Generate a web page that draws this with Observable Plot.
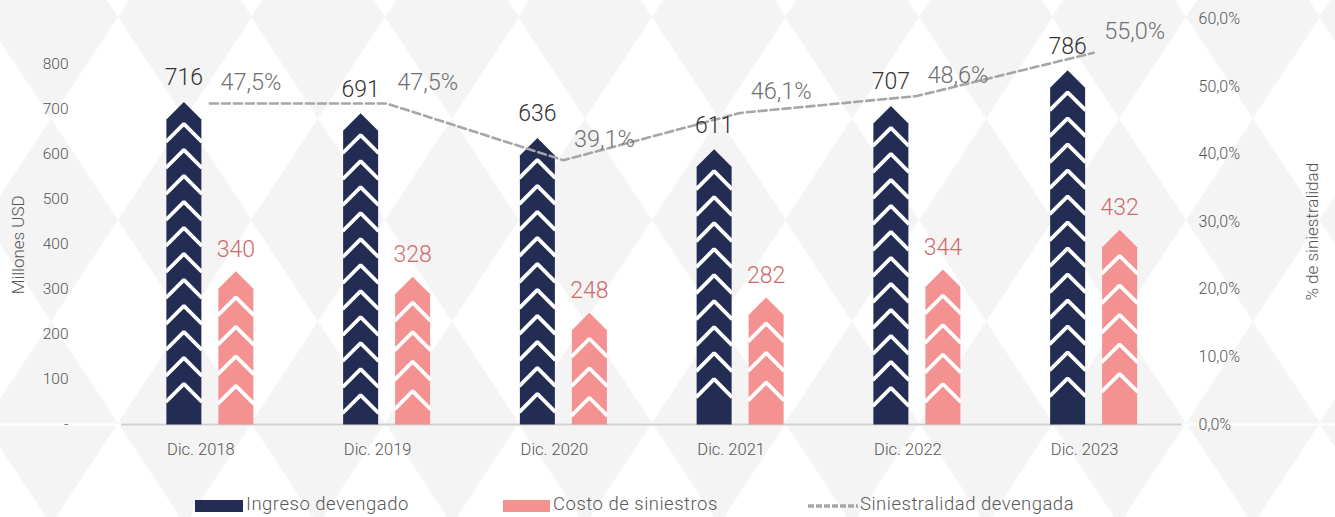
<!DOCTYPE html>
<html>
<head>
<meta charset="utf-8">
<script src="https://cdn.jsdelivr.net/npm/d3@7"></script>
<script src="https://cdn.jsdelivr.net/npm/@observablehq/plot@0.6"></script>
<style>
  html, body { margin: 0; padding: 0; width: 1335px; height: 517px; overflow: hidden; }
  body { font-family: Roboto, "Noto Sans", sans-serif; background-color: #f4f4f4;
         background-size: 133.5px 203px; background-position: 51.25px 16.5px; }
  #chart svg { display: block; }
  #chart svg text { font-weight: 300; }
  #legend { position: relative; width: 1335px; height: 47px; overflow: hidden; color: #595959; font-size: 18.5px; font-weight: 300; }
  #legend .sw { position: absolute; top: 30px; height: 12px; }
  #legend .lab { position: absolute; top: 24px; line-height: 21px; white-space: nowrap; letter-spacing: 0.5px; }
</style>
</head>
<body>
<div id="chart"></div>
<div id="legend"></div>
<script>
// ---------- data ----------
const years = ["Dic. 2018", "Dic. 2019", "Dic. 2020", "Dic. 2021", "Dic. 2022", "Dic. 2023"];
const ingreso = [716, 691, 636, 611, 707, 786];
const costo = [340, 328, 248, 282, 344, 432];
const siniestralidad = [47.5, 47.5, 39.1, 46.1, 48.6, 55.0];
const leftTicks = [0, 100, 200, 300, 400, 500, 600, 700, 800];
const rightTicks = [0, 10, 20, 30, 40, 50, 60];
const seriesNames = ["Ingreso devengado", "Costo de siniestros", "Siniestralidad devengada"];

// ---------- layout & style ----------
const W = 1335, H = 470, mTop = 18.5, mBottom = 46, mLeft = 121, mRight = 153.5;
const yMax = 900, pctMax = 60, k = yMax / pctMax;
const ky = (H - mBottom - mTop) / yMax;          // px per unit
const kx = (W - mLeft - mRight) / years.length;   // px per category
const barW = 35, gap = 17;
const tipU = (barW / 2) / ky;
const navy = "#232d53", pink = "#f49191";

// background harlequin pattern
const tile = "<svg xmlns='http://www.w3.org/2000/svg' width='133.5' height='203' viewBox='0 0 133.5 203'><polygon points='66.75,0 133.5,101.5 66.75,203 0,101.5' fill='#ffffff'/></svg>";
document.body.style.backgroundImage = `url("data:image/svg+xml,${encodeURIComponent(tile)}")`;

function buildBars(values, side, first, spacing, tag) {
  const polys = [], chevs = [];
  values.forEach((v, i) => {
    const x0 = i + (side < 0 ? -(gap / 2 + barW) : gap / 2) / kx;
    const x1 = x0 + barW / kx;
    const xc = (x0 + x1) / 2;
    const id = tag + i;
    polys.push({id, x: x0, y: 0}, {id, x: x0, y: v - tipU}, {id, x: xc, y: v},
               {id, x: x1, y: v - tipU}, {id, x: x1, y: 0});
    let n = 0;
    for (let d = first; ; d += spacing, n++) {
      const ya = v - d / ky;
      if ((ya - tipU) * ky < 6) break;
      const cid = id + "c" + n;
      chevs.push({id: cid, x: x0 - 0.6 / kx, y: ya - tipU - 0.6 / ky}, {id: cid, x: xc, y: ya},
                 {id: cid, x: x1 + 0.6 / kx, y: ya - tipU - 0.6 / ky});
    }
  });
  return {polys, chevs};
}
const nb = buildBars(ingreso, -1, 22, 26, "n");
const pb = buildBars(costo, 1, 26, 29.5, "p");

const navyLabels = ingreso.map((v, i) => ({x: i - (gap / 2 + barW / 2) / kx, y: v, t: String(v)}));
const pinkLabels = costo.map((v, i) => ({x: i + (gap / 2 + barW / 2) / kx, y: v, t: String(v)}));
const lineData = siniestralidad.map((p, i) => ({x: i, y: p * k, t: p.toFixed(1).replace(".", ",") + "%"}));
const fmtPct = v => (v / k).toFixed(1).replace(".", ",") + "%";

const chart = Plot.plot({
  width: W, height: H,
  marginTop: mTop, marginBottom: mBottom, marginLeft: mLeft, marginRight: mRight,
  style: {background: "transparent", fontFamily: "Roboto, 'Noto Sans', sans-serif"},
  x: {type: "linear", domain: [-0.5, years.length - 0.5]},
  y: {domain: [0, yMax]},
  marks: [
    Plot.ruleY([0], {x1: -1.2, x2: 6.5, stroke: "#ffffff", strokeWidth: 2, clip: false}),
    Plot.ruleY([0], {stroke: "#cfcfcf", strokeWidth: 2}),
    Plot.axisY({anchor: "left", ticks: leftTicks, tickFormat: d => d === 0 ? "-" : String(d),
      tickSize: 0, tickPadding: 53, fontSize: 15.5, color: "#555555", label: null}),
    Plot.axisY({anchor: "right", ticks: rightTicks.map(t => t * k), tickFormat: fmtPct,
      tickSize: 0, tickPadding: 16.5, fontSize: 16, color: "#555555", label: null, textAnchor: "start"}),
    Plot.axisX({ticks: d3.range(years.length), tickFormat: i => years[i], tickSize: 0, tickPadding: 19,
      fontSize: 16.5, dx: -9, color: "#555555", label: null}),
    Plot.text(["Millones USD"], {frameAnchor: "left", dx: -103, dy: 23, rotate: -90, textAnchor: "middle", fontSize: 17, fill: "#555555"}),
    Plot.text(["% de siniestralidad"], {frameAnchor: "right", dx: 131, dy: 10, rotate: -90, textAnchor: "middle", fontSize: 17, fill: "#555555"}),
    Plot.line(nb.polys, {x: "x", y: "y", z: "id", fill: navy, stroke: "none", curve: "linear"}),
    Plot.line(pb.polys, {x: "x", y: "y", z: "id", fill: pink, stroke: "none", curve: "linear"}),
    Plot.line(nb.chevs, {x: "x", y: "y", z: "id", stroke: "#ffffff", strokeWidth: 3.8, strokeLinejoin: "miter", strokeLinecap: "butt"}),
    Plot.line(pb.chevs, {x: "x", y: "y", z: "id", stroke: "#ffffff", strokeWidth: 3.8, strokeLinejoin: "miter", strokeLinecap: "butt"}),
    Plot.line(lineData, {x: "x", y: "y", stroke: "#a6a6a6", strokeWidth: 2.6, strokeDasharray: "8,4"}),
    Plot.text(navyLabels, {x: "x", y: "y", text: "t", dy: -24, fontSize: 23, fill: "#333333", lineAnchor: "middle"}),
    Plot.text(pinkLabels, {x: "x", y: "y", text: "t", dy: -22, fontSize: 23, fill: "#cd6b6b", lineAnchor: "middle"}),
    Plot.text(lineData, {x: "x", y: "y", text: "t", dx: 41, dy: -21, fontSize: 23.5, fill: "#707070", lineAnchor: "middle"})
  ]
});
document.getElementById("chart").appendChild(chart);

// legend
const lg = document.getElementById("legend");
lg.innerHTML =
  `<div class="sw" style="left:195px;width:48px;background:${navy}"></div>` +
  `<div class="lab" style="left:246px">${seriesNames[0]}</div>` +
  `<div class="sw" style="left:503px;width:47px;background:${pink}"></div>` +
  `<div class="lab" style="left:553px">${seriesNames[1]}</div>` +
  `<svg style="position:absolute;left:807px;top:30px" width="52" height="12"><line x1="1" y1="6" x2="51" y2="6" stroke="#a6a6a6" stroke-width="3.5" stroke-dasharray="6,2"/></svg>` +
  `<div class="lab" style="left:860px">${seriesNames[2]}</div>`;
</script>
</body>
</html>
